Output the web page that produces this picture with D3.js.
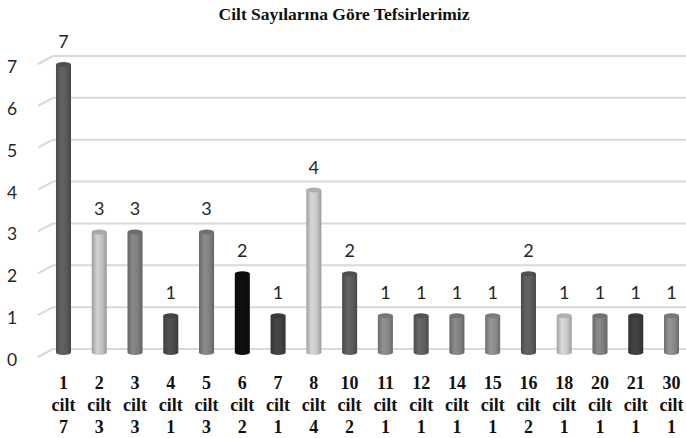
<!DOCTYPE html>
<html>
<head>
<meta charset="utf-8">
<script src="https://cdn.jsdelivr.net/npm/d3@7"></script>
<style>
  html, body { margin: 0; padding: 0; background: #fff; }
  svg { display: block; }
</style>
</head>
<body>
<svg id="chart" width="686" height="438"></svg>
<script>
// ------------------
// Data
// ------------------
const volumes = [1, 2, 3, 4, 5, 6, 7, 8, 10, 11, 12, 14, 15, 16, 18, 20, 21, 30]
const counts = [7, 3, 3, 1, 3, 2, 1, 4, 2, 1, 1, 1, 1, 2, 1, 1, 1, 1]
const barColors = ['#5a5a5a', '#c0c0c0', '#7d7d7d', '#4b4b4b', '#808080', '#0e0e0e',
  '#414141', '#c6c6c6', '#5b5b5b', '#868686', '#5f5f5f', '#808080', '#8a8a8a',
  '#5b5b5b', '#c8c8c8', '#7f7f7f', '#3e3e3e', '#888888']
const yTicks = [0, 1, 2, 3, 4, 5, 6, 7]
const title = 'Cilt Sayılarına Göre Tefsirlerimiz'

const svg = d3.select('#chart')
const width = 686

// ------------------
// Scales
// ------------------
const x = d3.scaleBand()
  .domain(volumes)
  .range([45.6, 689.4])
  .paddingInner(0.58)
  .paddingOuter(0.29)

const y = d3.scaleLinear()
  .domain([0, 7])
  .range([355, 62])

const depth = { dx: 15, dy: 8 }

// ------------------
// Title
// ------------------
svg.append('text')
  .attr('x', 344)
  .attr('y', 20)
  .attr('text-anchor', 'middle')
  .attr('font-family', '"Liberation Serif", "Times New Roman", serif')
  .attr('font-weight', 'bold')
  .attr('font-size', 17.5)
  .attr('fill', '#111')
  .text(title)

// ------------------
// Grid (back wall + floor edge)
// ------------------
const grid = svg.append('g')
yTicks.forEach(v => {
  const yb = y(v) - 6
  grid.append('line')
    .attr('x1', 38).attr('y1', yb + depth.dy)
    .attr('x2', 38 + depth.dx).attr('y2', yb)
    .attr('stroke', '#d9d9d9').attr('stroke-width', 2)
  grid.append('line')
    .attr('x1', 38 + depth.dx).attr('y1', yb)
    .attr('x2', width).attr('y2', yb)
    .attr('stroke', '#d9d9d9').attr('stroke-width', 2)
})

// y tick labels
svg.append('g')
  .selectAll('text')
  .data(yTicks)
  .join('text')
  .attr('x', 7)
  .attr('y', d => y(d) + 11)
  .attr('font-family', 'Lato, "Open Sans", sans-serif')
  .attr('font-size', 17.5)
  .attr('fill', '#262626')
  .text(d => d)

// ------------------
// Cylinder bars
// ------------------
const defs = svg.append('defs')
barColors.forEach((c, i) => {
  const base = d3.color(c)
  const g = defs.append('linearGradient')
    .attr('id', 'cyl' + i)
    .attr('x1', '0%').attr('x2', '100%')
    .attr('y1', '0%').attr('y2', '0%')
  g.append('stop').attr('offset', '0%').attr('stop-color', base.darker(0.6))
  g.append('stop').attr('offset', '35%').attr('stop-color', base.brighter(0.25))
  g.append('stop').attr('offset', '70%').attr('stop-color', base)
  g.append('stop').attr('offset', '100%').attr('stop-color', base.darker(0.7))
})

const bw = x.bandwidth()
const capRy = 2.5
const bars = svg.append('g')
  .selectAll('g')
  .data(volumes.map((v, i) => ({ vol: v, count: counts[i], i })))
  .join('g')

bars.append('rect')
  .attr('x', d => x(d.vol))
  .attr('y', d => y(d.count) + capRy)
  .attr('width', bw)
  .attr('height', d => y(0) - y(d.count) - capRy * 2)
  .attr('fill', d => `url(#cyl${d.i})`)

// bottom cap
bars.append('ellipse')
  .attr('cx', d => x(d.vol) + bw / 2)
  .attr('cy', y(0) - capRy)
  .attr('rx', bw / 2)
  .attr('ry', capRy)
  .attr('fill', d => `url(#cyl${d.i})`)

// top cap
bars.append('ellipse')
  .attr('cx', d => x(d.vol) + bw / 2)
  .attr('cy', d => y(d.count) + capRy)
  .attr('rx', bw / 2)
  .attr('ry', capRy)
  .attr('fill', d => d3.color(barColors[d.i]).darker(0.35))

// value labels
bars.append('text')
  .attr('x', d => x(d.vol) + bw / 2)
  .attr('y', d => y(d.count) - 14)
  .attr('text-anchor', 'middle')
  .attr('font-family', 'Lato, "Open Sans", sans-serif')
  .attr('font-size', 18)
  .attr('fill', '#262626')
  .text(d => d.count)

// ------------------
// Category labels
// ------------------
const labels = svg.append('g')
  .selectAll('text')
  .data(volumes.map((v, i) => ({ vol: v, count: counts[i] })))
  .join('text')
  .attr('text-anchor', 'middle')
  .attr('font-family', '"Liberation Serif", "Times New Roman", serif')
  .attr('font-weight', 'bold')
  .attr('font-size', 18)
  .attr('fill', '#111')

labels.append('tspan')
  .attr('x', d => x(d.vol) + bw / 2)
  .attr('y', 389)
  .text(d => d.vol)
labels.append('tspan')
  .attr('x', d => x(d.vol) + bw / 2)
  .attr('y', 411)
  .text('cilt')
labels.append('tspan')
  .attr('x', d => x(d.vol) + bw / 2)
  .attr('y', 433)
  .text(d => d.count)
</script>
</body>
</html>
